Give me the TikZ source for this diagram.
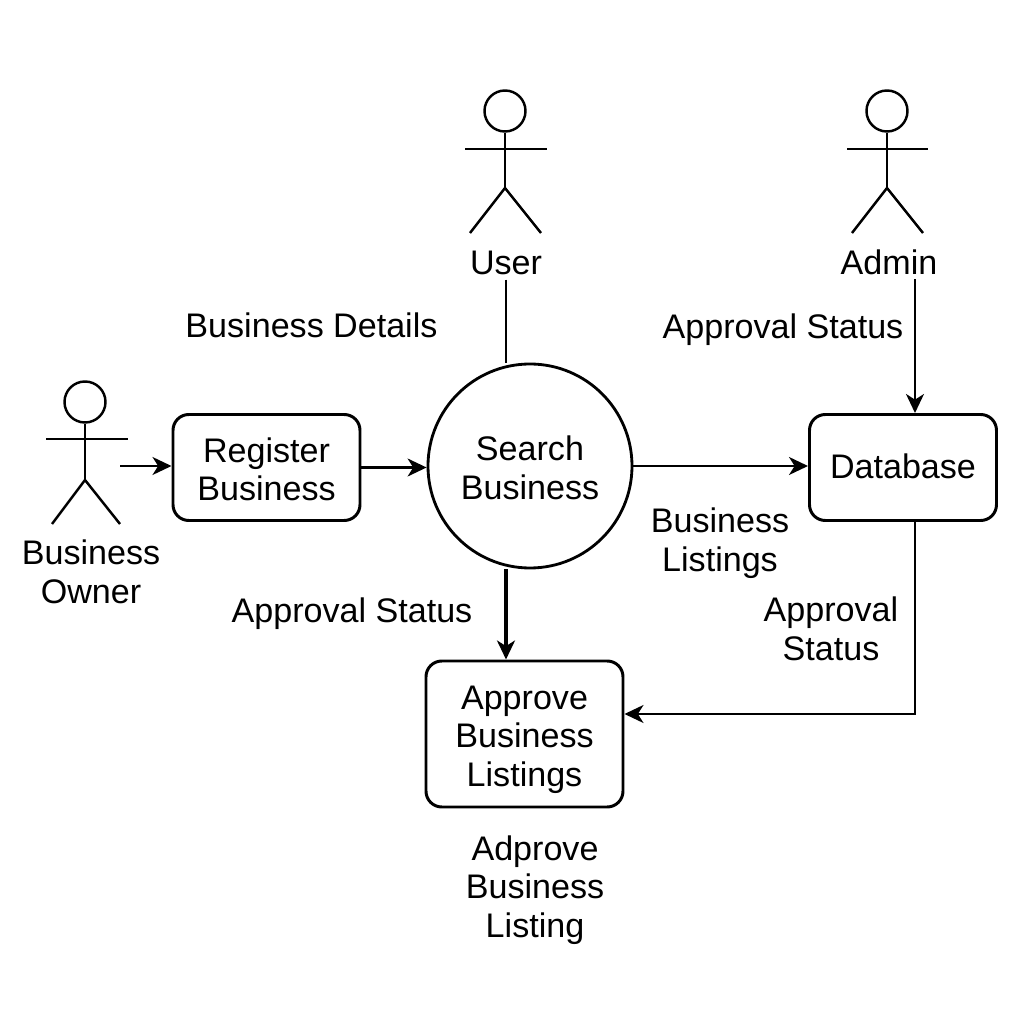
\documentclass[tikz,border=0pt]{standalone}
\usepackage{fontspec}
\setmainfont{Liberation Sans}
\usetikzlibrary{positioning,arrows.meta,calc}

\begin{document}
\begin{tikzpicture}[
    >={Stealth[length=5.4pt,width=5.1pt,inset=1.6pt]},
    font=\fontsize{9.7pt}{11pt}\selectfont,
    basebox/.style={
      draw=black,
      rounded corners=4.5pt,
      line width=.85pt,
      align=center,
      inner sep=0pt
    },
    process/.style={basebox, minimum width=18.7mm, minimum height=10.6mm},
    search/.style={draw=black, circle, line width=.8pt, align=center, minimum size=20.4mm, inner sep=0pt},
    head/.style={draw=black, circle, line width=.7pt, minimum size=4.1mm, inner sep=0pt},
    limb/.style={draw=black, line width=.7pt},
    flow/.style={->, draw=black, line width=.7pt},
    plain/.style={draw=black, line width=.6pt},
    lab/.style={align=center, inner sep=0pt, text=black}
  ]
    \useasboundingbox (0,0) rectangle (10.24,10.24);

    % processes
    \node[process] (register) at (2.665,5.565) {\rule{0pt}{8pt}Register\\Business};
    \node[search] (searchbiz) at (5.30,5.58) {\rule{0pt}{8.2pt}Search\\Business};
    \node[process] (database) at (9.03,5.565) {\raisebox{.9pt}{Database}};
    \node[process, minimum width=19.7mm, minimum height=14.6mm] (approve) at (5.245,2.90)
      {\rule{0pt}{9.8pt}Approve\\Business\\Listings};

    % actors
    \node[head] (userhead) at (5.05,9.13) {};
    \draw[limb] (userhead.south) -- (5.05,8.36);
    \draw[limb] (4.65,8.75) -- (5.47,8.75);
    \draw[limb] (4.70,7.91) -- (5.05,8.36) -- (5.41,7.91);
    \node[lab] (user) at (5.06,7.61) {User};

    \node[head] (adminhead) at (8.87,9.13) {};
    \draw[limb] (adminhead.south) -- (8.87,8.36);
    \draw[limb] (8.47,8.75) -- (9.28,8.75);
    \draw[limb] (8.52,7.91) -- (8.87,8.36) -- (9.23,7.91);
    \node[lab] (admin) at (8.89,7.62) {Admin};

    \node[head] (ownerhead) at (0.85,6.22) {};
    \draw[limb] (ownerhead.south) -- (0.85,5.44);
    \draw[limb] (0.46,5.85) -- (1.28,5.85);
    \draw[limb] (0.52,5.00) -- (0.85,5.44) -- (1.20,5.00);
    \node[lab] (owner) at (0.91,4.525) {Business\\Owner};

    % labels
    \node[lab] (details) at (3.115,6.99) {Business Details};
    \node[lab] (statusadmin) at (7.83,6.94) {Approval Status};
    \node[lab] (listings) at (7.20,4.805) {Business\\Listings};
    \node[lab] (statussearch) at (3.52,4.10) {Approval Status};
    \node[lab] (statusdb) at (8.31,3.95) {Approval\\Status};
    \node[lab] (adprove) at (5.35,1.34) {Adprove\\Business\\Listing};

    % connectors
    \coordinate (ownerout) at (1.20,5.58);
    \draw[flow] (ownerout) -- (register.west |- ownerout);
    \draw[flow] (register) -- (register -| searchbiz.west);
    \draw[flow] (searchbiz) -- (searchbiz -| database.west);
    \draw[plain, shorten <=.4mm] (user.south -| 5.06,0) -- (searchbiz.north -| 5.06,0);
    \draw[flow, line width=1pt] (searchbiz.south -| 5.06,0) -- (approve.north -| 5.06,0);
    \draw[flow, shorten <=.4mm] (admin.south -| 9.15,0) -- (database.north -| 9.15,0);
    \draw[flow] (database.south -| 9.15,0) |- (approve.east |- 0,3.10);
  \end{tikzpicture}
\end{document}
